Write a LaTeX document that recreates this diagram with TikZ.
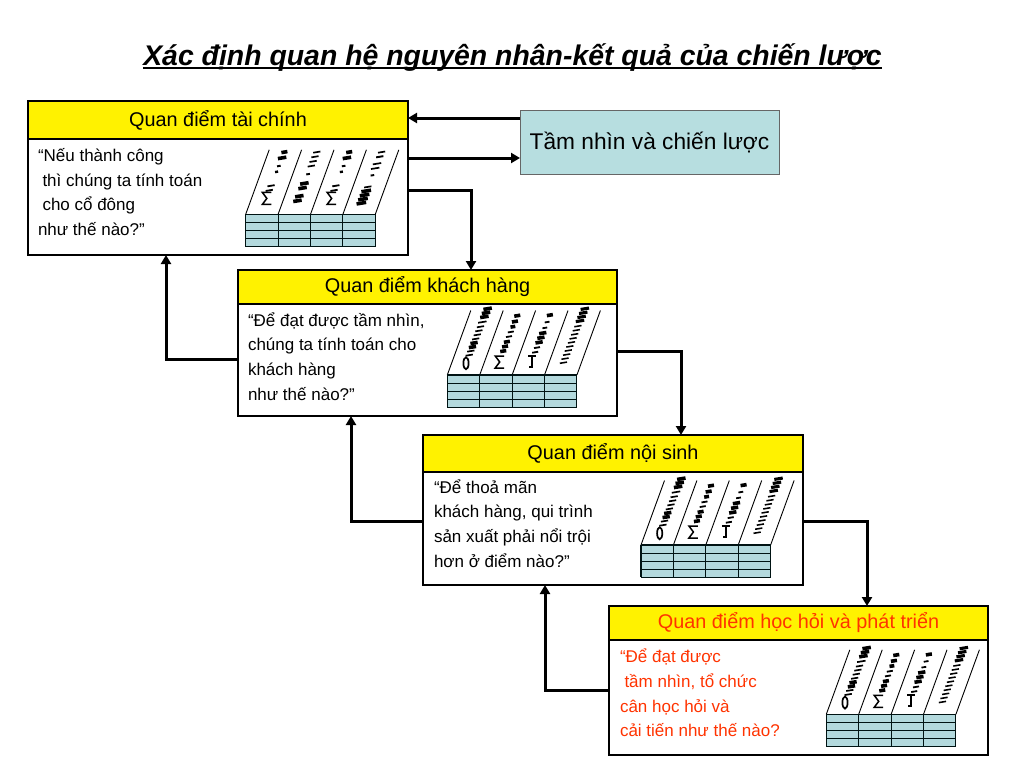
\documentclass[tikz,border=0pt]{standalone}
\usepackage{fontspec}
\setmainfont{Liberation Sans}
\usetikzlibrary{arrows.meta}
\definecolor{tbl}{HTML}{B3D9DD}
\definecolor{vis}{HTML}{B7DEE0}
\definecolor{redtxt}{HTML}{FF3300}
\tikzset{
  x=1pt,y=-1pt,
  boxout/.style={draw=black,line width=1.3pt,fill=white,minimum width=#1,inner sep=0pt,outer sep=0pt},
  headbox/.style={draw=black,line width=1.3pt,fill=yellow,inner sep=0pt,outer sep=0pt,align=center,font=\fontsize{19.85}{22}\selectfont},
  bodytxt/.style={inner sep=0pt,outer sep=0pt,align=left,anchor=north west,font=\fontsize{17}{24.7}\selectfont},
  conn/.style={line width=3pt,black,-{Stealth[length=9pt,width=10pt,inset=0pt]}},
  blob/.style={black},
  cardline/.style={line width=1.1pt,black!85!teal}
}
\newcommand{\colglyphs}[3]{%
  \foreach \t/\w/\l in {#3}{
    \draw[blob,line width=1.2*\l pt] ({#1+18+23*\t-0.6*\w},{#2-10-58*\t+0.1*\w}) -- ++({1.2*\w},{-0.2*\w});
  }}
% sigma, oval and hook marks at the foot of a column
\newcommand{\gsig}[3]{\draw[line width=1.5pt] ({#1+24.5+23*#3},{#2-19-58*#3}) -- ++(-9,0) -- ++(4.5,6) -- ++(-4.5,6) -- ++(9,0);}
\newcommand{\goval}[3]{\draw[line width=1.7pt] ({#1+18+23*#3},{#2-10-58*#3}) ellipse (2.6 and 6);}
\newcommand{\ghook}[3]{\draw[line width=1.7pt] ({#1+16+23*#3},{#2-19-58*#3}) -- ++(8,0) ++(-4,0) -- ++(0,11) -- ++(-3,0);}
\newcommand{\cardgrid}[2]{%
  \fill[tbl] (#1,#2) rectangle ++(129.5,32.4);
  \foreach \i in {0,1,2,3,4}{
    \draw[cardline] ({#1+32.4*\i},#2) -- ++(0,32.4);
    \draw[line width=0.9pt] ({#1+32.4*\i},#2) -- ++(23.5,-64.5);
  }
  \foreach \j in {0,1,2,3,4}{
    \draw[cardline] (#1,{#2+8.1*\j}) -- ++(129.5,0);
  }}
\newcommand{\cardA}[2]{%
  \cardgrid{#1}{#2}
  \gsig{#1}{#2}{.05}
  \colglyphs{#1}{#2}{.24/6/1.5,.32/6/1.5,.56/2.5/2,.66/3/1.6,.80/7/3,.90/5/3}
  \colglyphs{(#1+32.4)}{#2}{.06/7/3,.14/7/3,.28/7/3,.36/7/3,.52/3/1.6,.66/6/1.4,.74/6/1.4,.82/6/1.4,.90/6/1.4}
  \gsig{(#1+64.8)}{#2}{.05}
  \colglyphs{(#1+64.8)}{#2}{.24/6/1.5,.32/6/1.5,.56/2.5/2,.66/3/1.6,.80/7/3,.90/5/3}
  \colglyphs{(#1+97.2)}{#2}{.02/8/3,.09/8/3,.16/8/3,.23/8/3,.30/6/1.4,.50/3/1.6,.62/7/1.4,.70/7/1.4,.82/6/1.6,.90/6/1.4}
}
\newcommand{\cardB}[2]{%
  \cardgrid{#1}{#2}
  \goval{#1}{#2}{.03}
  \colglyphs{#1}{#2}{.17/6/1.4,.24/6/1.4,.31/6/3,.38/6/3,.45/6/1.4,.52/6/1.4,.59/6/1.4,.66/6/1.4,.74/7/1.4,.83/7/3,.90/7/3,.97/7/3}
  \gsig{(#1+32.4)}{#2}{0}
  \colglyphs{(#1+32.4)}{#2}{.24/5/3,.32/5/3,.40/5/3,.49/5/1.5,.57/5/1.5,.66/4/3,.75/5/3,.85/5/3}
  \ghook{(#1+64.8)}{#2}{0}
  \colglyphs{(#1+64.8)}{#2}{.22/5/1.5,.30/5/1.5,.39/6/3,.47/6/3,.55/6/3,.64/4/1.5,.74/4/1.5,.86/5/3}
  \colglyphs{(#1+97.2)}{#2}{.04/6/1.3,.11/6/1.3,.18/6/1.3,.25/6/1.3,.32/6/1.3,.39/6/1.3,.46/6/1.3,.53/6/1.3,.60/6/1.3,.67/6/1.3,.76/7/2.6,.83/7/2.6,.90/7/2.6,.97/7/2.6}
}
\begin{document}
\begin{tikzpicture}
\useasboundingbox (0,0) rectangle (1024,768);
\fill[white] (0,0) rectangle (1024,768);
% title
\node[inner sep=0pt,anchor=base] (title) at (512.5,65) {\fontsize{28.4}{32}\selectfont\bfseries\itshape Xác định quan hệ nguyên nhân-kết quả của chiến lược};
\coordinate (tu) at (0,68);
\draw[line width=1.8pt] (title.west |- tu) -- (title.east |- tu);
% vision
\node[draw=black!60,line width=0.8pt,fill=vis,minimum width=259pt,minimum height=64pt,inner sep=0pt,outer sep=0pt,font=\fontsize{22.7}{26}\selectfont] (vision) at (649.5,142) {\raisebox{-3pt}{Tầm nhìn và chiến lược}};
% boxes
\node[boxout=380pt,minimum height=154pt] (box1) at (218,178) {};
\node[headbox,minimum width=380pt,minimum height=38pt] (h1) at (218,120) {Quan điểm tài chính};
\node[boxout=379pt,minimum height=146pt] (box2) at (427.5,343) {};
\node[headbox,minimum width=379pt,minimum height=34pt] (h2) at (427.5,287) {\raisebox{-5pt}{Quan điểm khách hàng}};
\node[boxout=380pt,minimum height=150pt] (box3) at (613,510) {};
\node[headbox,minimum width=380pt,minimum height=37pt] (h3) at (613,453.5) {Quan điểm nội sinh};
\node[boxout=379pt,minimum height=149pt] (box4) at (798.5,680.5) {};
\node[headbox,minimum width=379pt,minimum height=34pt,text=redtxt] (h4) at (798.5,623) {\raisebox{-5pt}{Quan điểm học hỏi và phát triển}};
% body text
\node[bodytxt] (t1) at (38,148.5) {“Nếu thành công\\\hspace*{4.5pt}thì chúng ta tính toán\\\hspace*{4.5pt}cho cổ đông\\như thế nào?”};
\node[bodytxt] (t2) at (248,312.5) {“Để đạt được tầm nhìn,\\chúng ta tính toán cho\\khách hàng\\như thế nào?”};
\node[bodytxt] (t3) at (434,479.5) {“Để thoả mãn\\khách hàng, qui trình\\sản xuất phải nổi trội\\hơn ở điểm nào?”};
\node[bodytxt,text=redtxt] (t4) at (620,649) {“Để đạt được\\\hspace*{4.5pt}tầm nhìn, tổ chức\\cân học hỏi và\\cải tiến như thế nào?};
% score cards
\cardA{245.7}{214.3}
\cardB{447.3}{375}
\cardB{641}{545}
\cardB{826.3}{714.3}
% connectors
\coordinate (a) at (0,118);
\coordinate (b) at (0,158);
\coordinate (c) at (471,190);
\coordinate (d) at (166,359);
\coordinate (e) at (681,351);
\coordinate (f) at (351,521);
\coordinate (g) at (867,521);
\coordinate (i) at (545,690);
\draw[conn] (vision.west |- a) -- (h1.east |- a);
\draw[conn] (box1.east |- b) -- (vision.west |- b);
\draw[conn] (box1.east |- c) -- (c) -- (c |- box2.north);
\draw[conn] (box2.west |- d) -- (d) -- (d |- box1.south);
\draw[conn] (box2.east |- e) -- (e) -- (e |- box3.north);
\draw[conn] (box3.west |- f) -- (f) -- (f |- box2.south);
\draw[conn] (box3.east |- g) -- (g) -- (g |- box4.north);
\draw[conn] (box4.west |- i) -- (i) -- (i |- box3.south);
\end{tikzpicture}
\end{document}
